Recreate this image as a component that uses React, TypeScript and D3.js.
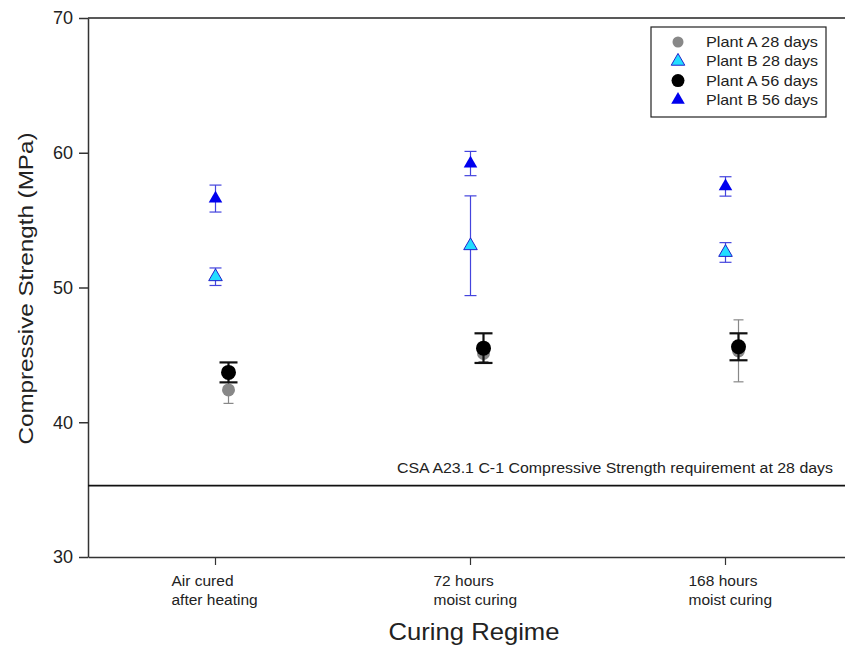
import React, { useRef, useEffect } from 'react';
import * as d3 from 'd3';

const categories = ['Air cured|after heating', '72 hours|moist curing', '168 hours|moist curing'];
const plantA28 = [42.4, 45.1, 45.3];
const plantA28Err = [1.0, 0.6, 2.3];
const plantB28 = [50.8, 53.1, 52.6];
const plantB28Err = [0.65, 3.7, 0.73];
const plantA56 = [43.7, 45.5, 45.6];
const plantA56Err = [0.74, 1.1, 1.0];
const plantB56 = [56.6, 59.2, 57.5];
const plantB56Err = [1.0, 0.9, 0.72];
const yTicks = [30, 40, 50, 60, 70];
const requirement = 35.3;
const requirementLabel = 'CSA A23.1 C-1 Compressive Strength requirement at 28 days';
const legendLabels = ['Plant A 28 days', 'Plant B 28 days', 'Plant A 56 days', 'Plant B 56 days'];

const W = 845;
const H = 647;
const sans = "'Liberation Sans', Arial, sans-serif";

const App = () => {
  const ref = useRef<SVGSVGElement>(null);

  useEffect(() => {
    const svg = d3.select(ref.current);
    svg.selectAll('*').remove();

    const left = 88, right = 853, top = 18, bottom = 557;
    const x = d3.scaleBand().domain(categories).range([left, right]);
    const y = d3.scaleLinear().domain([30, 70]).range([bottom, top]);
    const cx = (i: number) => x(categories[i])! + x.bandwidth() / 2;

    // frame
    svg.append('line').attr('x1', left).attr('x2', right).attr('y1', top).attr('y2', top)
      .attr('stroke', '#222').attr('stroke-width', 1.5);

    // y axis
    const yAxis = svg.append('g').attr('transform', `translate(${left},0)`)
      .call(d3.axisLeft(y).tickValues(yTicks).tickSize(9).tickSizeOuter(0).tickPadding(6));
    yAxis.select('.domain').attr('stroke', '#333').attr('stroke-width', 1.5);
    yAxis.selectAll('.tick line').attr('stroke', '#333').attr('stroke-width', 1.5);
    yAxis.selectAll('.tick text').attr('font-family', sans).attr('font-size', 18).attr('fill', '#222');

    // x axis
    const xAxis = svg.append('g').attr('transform', `translate(0,${bottom})`)
      .call(d3.axisBottom(x).tickSize(8).tickSizeOuter(0).tickFormat(() => ''));
    xAxis.select('.domain').attr('stroke', '#333').attr('stroke-width', 1.5);
    xAxis.selectAll('.tick line').attr('stroke', '#333').attr('stroke-width', 1.2);
    categories.forEach((c, i) => {
      const lines = c.split('|');
      const lx = cx(i) - (i === 0 ? 44 : 37);
      const t = svg.append('text').attr('font-family', sans).attr('font-size', 15.5).attr('fill', '#222')
        .attr('x', lx).attr('y', 586);
      lines.forEach((l, j) => {
        t.append('tspan').attr('x', lx).attr('dy', j === 0 ? 0 : 19).text(l);
      });
    });

    // axis titles
    svg.append('text').attr('transform', `translate(33,${(top + bottom) / 2 + 1}) rotate(-90)`)
      .attr('text-anchor', 'middle').attr('font-family', sans).attr('font-size', 21).attr('fill', '#222')
      .attr('textLength', 312).attr('lengthAdjust', 'spacingAndGlyphs')
      .text('Compressive Strength (MPa)');
    svg.append('text').attr('x', 474).attr('y', 640)
      .attr('text-anchor', 'middle').attr('font-family', sans).attr('font-size', 24).attr('fill', '#222')
      .attr('textLength', 171).attr('lengthAdjust', 'spacingAndGlyphs')
      .text('Curing Regime');

    // requirement line
    svg.append('line').attr('x1', left).attr('x2', right).attr('y1', y(requirement)).attr('y2', y(requirement))
      .attr('stroke', '#111').attr('stroke-width', 1.8);
    svg.append('text').attr('x', 833).attr('y', y(requirement) - 13).attr('text-anchor', 'end')
      .attr('font-family', sans).attr('font-size', 15.5).attr('fill', '#222')
      .attr('textLength', 436).attr('lengthAdjust', 'spacingAndGlyphs')
      .text(requirementLabel);

    const tri = d3.symbol().type(d3.symbolTriangle).size(80);
    const errBar = (g: any, px: number, v: number, e: number, color: string, sw: number, cap: number) => {
      g.append('line').attr('x1', px).attr('x2', px).attr('y1', y(v - e)).attr('y2', y(v + e))
        .attr('stroke', color).attr('stroke-width', sw);
      [v - e, v + e].forEach(val => {
        g.append('line').attr('x1', px - cap / 2).attr('x2', px + cap / 2).attr('y1', y(val)).attr('y2', y(val))
          .attr('stroke', color).attr('stroke-width', sw);
      });
    };

    const marks = svg.append('g');
    const off = 13;
    // plant A 28 days (grey)
    categories.forEach((_, i) => {
      errBar(marks, cx(i) + off, plantA28[i], plantA28Err[i], '#888', 1.2, 10);
      marks.append('circle').attr('cx', cx(i) + off).attr('cy', y(plantA28[i])).attr('r', 6.5).attr('fill', '#888');
    });
    // plant B 28 days (cyan triangle)
    categories.forEach((_, i) => {
      errBar(marks, cx(i), plantB28[i], plantB28Err[i], '#4444dd', 1.2, 12);
      marks.append('path').attr('d', tri).attr('transform', `translate(${cx(i)},${y(plantB28[i])})`)
        .attr('fill', '#22ddff').attr('stroke', '#2222cc').attr('stroke-width', 1);
    });
    // plant A 56 days (black)
    categories.forEach((_, i) => {
      errBar(marks, cx(i) + off, plantA56[i], plantA56Err[i], '#111', 2.2, 18);
      marks.append('circle').attr('cx', cx(i) + off).attr('cy', y(plantA56[i])).attr('r', 7.5).attr('fill', '#000');
    });
    // plant B 56 days (blue triangle)
    categories.forEach((_, i) => {
      errBar(marks, cx(i), plantB56[i], plantB56Err[i], '#4444dd', 1.2, 12);
      marks.append('path').attr('d', tri).attr('transform', `translate(${cx(i)},${y(plantB56[i])})`)
        .attr('fill', '#0000ee');
    });

    // legend
    const lg = svg.append('g');
    lg.append('rect').attr('x', 651).attr('y', 27).attr('width', 175).attr('height', 90)
      .attr('fill', '#fff').attr('stroke', '#222').attr('stroke-width', 1.2);
    legendLabels.forEach((l, i) => {
      const ly = 42 + i * 19.3;
      if (i === 0) lg.append('circle').attr('cx', 678).attr('cy', ly).attr('r', 5.5).attr('fill', '#888');
      if (i === 1) lg.append('path').attr('d', tri).attr('transform', `translate(678,${ly})`)
        .attr('fill', '#22ddff').attr('stroke', '#2222cc');
      if (i === 2) lg.append('circle').attr('cx', 678).attr('cy', ly).attr('r', 6.5).attr('fill', '#000');
      if (i === 3) lg.append('path').attr('d', tri).attr('transform', `translate(678,${ly})`).attr('fill', '#0000ee');
      lg.append('text').attr('x', 706).attr('y', ly + 5).attr('font-family', sans).attr('font-size', 15)
        .attr('fill', '#222').attr('textLength', 112).attr('lengthAdjust', 'spacingAndGlyphs').text(l);
    });
  }, []);

  return (
    <svg ref={ref} width={W} height={H}
      style={{ position: 'absolute', left: 0, top: 0, background: '#fff' }} />
  );
};

export default App;
